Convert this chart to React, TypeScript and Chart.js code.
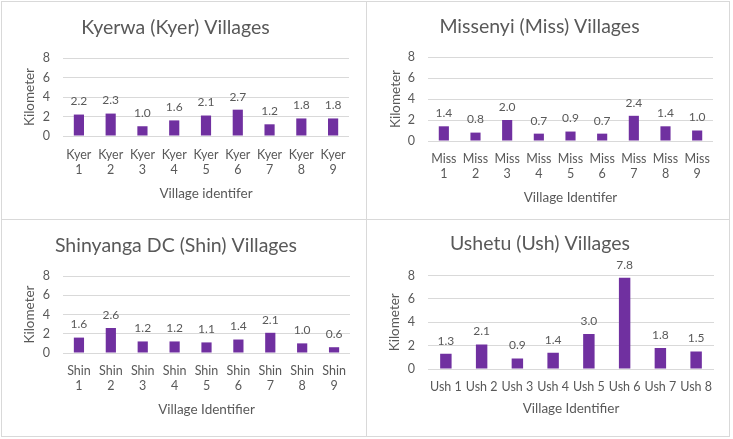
import React, { useEffect, useRef } from 'react';
import { Chart, registerables } from 'chart.js';

Chart.register(...registerables);

// ---- data ----
const kyerLabels = [['Kyer', '1'], ['Kyer', '2'], ['Kyer', '3'], ['Kyer', '4'], ['Kyer', '5'], ['Kyer', '6'], ['Kyer', '7'], ['Kyer', '8'], ['Kyer', '9']];
const kyerValues = [2.2, 2.3, 1.0, 1.6, 2.1, 2.7, 1.2, 1.8, 1.8];

const missLabels = [['Miss', '1'], ['Miss', '2'], ['Miss', '3'], ['Miss', '4'], ['Miss', '5'], ['Miss', '6'], ['Miss', '7'], ['Miss', '8'], ['Miss', '9']];
const missValues = [1.4, 0.8, 2.0, 0.7, 0.9, 0.7, 2.4, 1.4, 1.0];

const shinLabels = [['Shin', '1'], ['Shin', '2'], ['Shin', '3'], ['Shin', '4'], ['Shin', '5'], ['Shin', '6'], ['Shin', '7'], ['Shin', '8'], ['Shin', '9']];
const shinValues = [1.6, 2.6, 1.2, 1.2, 1.1, 1.4, 2.1, 1.0, 0.6];

const ushLabels = ['Ush 1', 'Ush 2', 'Ush 3', 'Ush 4', 'Ush 5', 'Ush 6', 'Ush 7', 'Ush 8'];
const ushValues = [1.3, 2.1, 0.9, 1.4, 3.0, 7.8, 1.8, 1.5];

const yTickValues = [0, 2, 4, 6, 8];
const yAxisTitle = 'Kilometer';

// ---- styling ----
const FONT = 'Lato, Carlito, Calibri, "Noto Sans", sans-serif';
const TEXT = '#595959';
const GRID = '#d9d9d9';
const BAR = '#7030A0';

type Frame = {
  left: number;
  top: number;
  width: number;
  height: number;
  titlePadTop: number;
  titlePadBottom: number;
  yWidth: number;
  yTickPad: number;
  yTitlePad: number;
  xHeight: number;
  xTickPad: number;
  xTitlePad: number;
  padRight: number;
};

type PanelProps = {
  title: string;
  labels: (string | string[])[];
  values: number[];
  xTitle: string;
  frame: Frame;
};

// Writes each bar's value just above its top.
const valueLabels = {
  id: 'valueLabels',
  afterDatasetsDraw(chart: any) {
    const { ctx } = chart;
    const meta = chart.getDatasetMeta(0);
    const data = chart.data.datasets[0].data as number[];
    ctx.save();
    ctx.font = `12px ${FONT}`;
    ctx.fillStyle = TEXT;
    ctx.textAlign = 'center';
    ctx.textBaseline = 'middle';
    meta.data.forEach((bar: any, i: number) => {
      ctx.fillText(data[i].toFixed(1), bar.x, bar.y - 13);
    });
    ctx.restore();
  },
};

function Panel({ title, labels, values, xTitle, frame }: PanelProps) {
  const ref = useRef<HTMLCanvasElement>(null);

  useEffect(() => {
    if (!ref.current) return;
    const chart = new Chart(ref.current, {
      type: 'bar',
      data: {
        labels,
        datasets: [
          {
            data: values,
            backgroundColor: BAR,
            borderWidth: 0,
            categoryPercentage: 1,
            barPercentage: 0.32,
          },
        ],
      },
      plugins: [valueLabels],
      options: {
        responsive: false,
        animation: false,
        devicePixelRatio: 1,
        layout: { padding: { left: 0, top: 0, bottom: 0, right: frame.padRight } },
        plugins: {
          legend: { display: false },
          tooltip: { enabled: false },
          title: {
            display: true,
            text: title,
            color: TEXT,
            font: { family: FONT, size: 19.5, weight: 'normal', lineHeight: 1.2 },
            padding: { top: frame.titlePadTop, bottom: frame.titlePadBottom },
          },
        },
        scales: {
          x: {
            grid: { display: false, drawTicks: false },
            border: { display: false },
            ticks: {
              color: TEXT,
              font: { family: FONT, size: 12.5, lineHeight: 1.2 },
              padding: frame.xTickPad,
              maxRotation: 0,
              autoSkip: false,
            },
            title: {
              display: true,
              text: xTitle,
              color: TEXT,
              font: { family: FONT, size: 13.5, lineHeight: 1.2 },
              padding: { top: 0, bottom: frame.xTitlePad },
            },
            afterFit(scale: any) {
              scale.height = frame.xHeight;
            },
          },
          y: {
            min: 0,
            max: 8,
            grid: { color: GRID, lineWidth: 1, drawTicks: false },
            border: { display: false },
            ticks: {
              color: TEXT,
              font: { family: FONT, size: 12.5 },
              padding: frame.yTickPad,
            },
            afterBuildTicks(scale: any) {
              scale.ticks = yTickValues.map((v) => ({ value: v }));
            },
            title: {
              display: true,
              text: yAxisTitle,
              color: TEXT,
              font: { family: FONT, size: 13.5, lineHeight: 1.2 },
              padding: { top: frame.yTitlePad, bottom: 0 },
            },
            afterFit(scale: any) {
              scale.width = frame.yWidth;
            },
          },
        },
      },
    } as any);
    return () => chart.destroy();
  }, [title, labels, values, xTitle, frame]);

  return (
    <canvas
      ref={ref}
      width={frame.width}
      height={frame.height}
      style={{
        position: 'absolute',
        left: frame.left,
        top: frame.top,
        width: frame.width,
        height: frame.height,
      }}
    />
  );
}

const frames: Record<string, Frame> = {
  kyer: {
    left: 2, top: 2, width: 364, height: 217,
    titlePadTop: 14, titlePadBottom: 18.6,
    yWidth: 61, yTickPad: 13, yTitlePad: 20,
    xHeight: 83, xTickPad: 11.5, xTitlePad: 17.7,
    padRight: 17,
  },
  miss: {
    left: 366, top: 2, width: 363, height: 217,
    titlePadTop: 13, titlePadBottom: 18.6,
    yWidth: 62, yTickPad: 13, yTitlePad: 22,
    xHeight: 78, xTickPad: 10.5, xTitlePad: 13.7,
    padRight: 16,
  },
  shin: {
    left: 2, top: 219, width: 364, height: 217,
    titlePadTop: 15, titlePadBottom: 18.6,
    yWidth: 61, yTickPad: 13, yTitlePad: 20,
    xHeight: 83, xTickPad: 10.5, xTitlePad: 18.7,
    padRight: 16,
  },
  ush: {
    left: 366, top: 219, width: 363, height: 217,
    titlePadTop: 13.5, titlePadBottom: 19.6,
    yWidth: 62, yTickPad: 13, yTitlePad: 21,
    xHeight: 67, xTickPad: 10.5, xTitlePad: 19.7,
    padRight: 15,
  },
};

const line = (style: React.CSSProperties): React.CSSProperties => ({
  position: 'absolute',
  background: GRID,
  ...style,
});

export default function App() {
  return (
    <div
      style={{
        position: 'absolute',
        left: 0,
        top: 0,
        width: 733,
        height: 439,
        background: '#ffffff',
        overflow: 'hidden',
      }}
    >
      <Panel title="Kyerwa (Kyer) Villages" labels={kyerLabels} values={kyerValues} xTitle="Village identifer" frame={frames.kyer} />
      <Panel title="Missenyi (Miss) Villages" labels={missLabels} values={missValues} xTitle="Village Identifer" frame={frames.miss} />
      <Panel title="Shinyanga DC (Shin) Villages" labels={shinLabels} values={shinValues} xTitle="Village Identifier" frame={frames.shin} />
      <Panel title="Ushetu (Ush) Villages" labels={ushLabels} values={ushValues} xTitle="Village Identifier" frame={frames.ush} />
      {/* panel frame lines */}
      <div style={line({ left: 1, top: 1, width: 729, height: 1 })} />
      <div style={line({ left: 1, top: 436, width: 729, height: 1 })} />
      <div style={line({ left: 1, top: 1, width: 1, height: 436 })} />
      <div style={line({ left: 729, top: 1, width: 1, height: 436 })} />
      <div style={line({ left: 366, top: 1, width: 1, height: 436 })} />
      <div style={line({ left: 1, top: 219, width: 729, height: 1 })} />
    </div>
  );
}
